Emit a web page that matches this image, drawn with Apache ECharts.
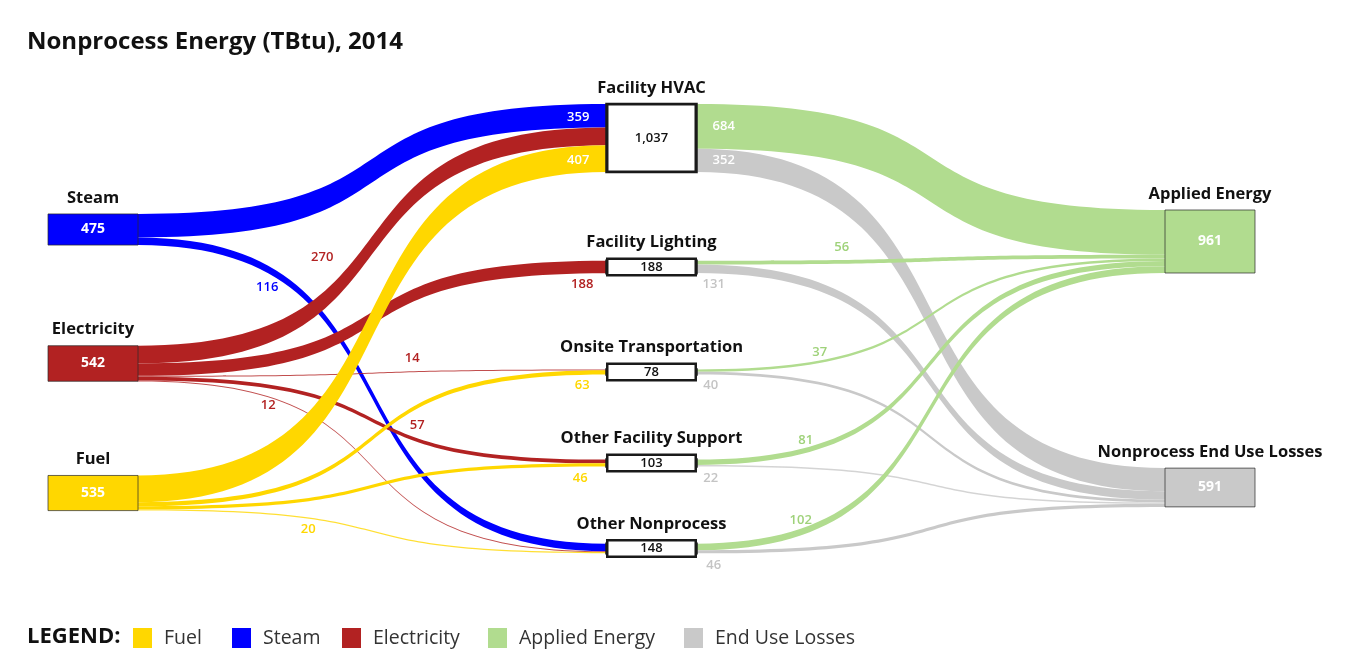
<!DOCTYPE html>
<html>
<head>
<meta charset="utf-8">
<script src="https://cdn.jsdelivr.net/npm/echarts@6/dist/echarts.min.js"></script>
<style>
  html, body { margin: 0; padding: 0; background: #fff; }
  #main { width: 1350px; height: 659px; }
</style>
</head>
<body>
<div id="main"></div>
<script>
// nodes (TBtu)
var nodeNames = ['Steam', 'Electricity', 'Fuel', 'Facility HVAC', 'Facility Lighting', 'Onsite Transportation',
  'Other Facility Support', 'Other Nonprocess', 'Applied Energy', 'Nonprocess End Use Losses'];
var nodeValues = [475, 542, 535, 1037, 188, 78, 103, 148, 961, 591];

// flows
var linkSources = ['Steam', 'Steam', 'Electricity', 'Electricity', 'Electricity', 'Electricity', 'Electricity',
  'Fuel', 'Fuel', 'Fuel', 'Fuel',
  'Facility HVAC', 'Facility HVAC', 'Facility Lighting', 'Facility Lighting',
  'Onsite Transportation', 'Onsite Transportation', 'Other Facility Support', 'Other Facility Support',
  'Other Nonprocess', 'Other Nonprocess'];
var linkTargets = ['Facility HVAC', 'Other Nonprocess', 'Facility HVAC', 'Facility Lighting', 'Onsite Transportation',
  'Other Facility Support', 'Other Nonprocess',
  'Facility HVAC', 'Onsite Transportation', 'Other Facility Support', 'Other Nonprocess',
  'Applied Energy', 'Nonprocess End Use Losses', 'Applied Energy', 'Nonprocess End Use Losses',
  'Applied Energy', 'Nonprocess End Use Losses', 'Applied Energy', 'Nonprocess End Use Losses',
  'Applied Energy', 'Nonprocess End Use Losses'];
var linkValues = [359, 116, 270, 188, 14, 57, 12, 407, 63, 46, 20, 684, 352, 56, 131, 37, 40, 81, 22, 102, 46];

// legend
var legendNames = ['Fuel', 'Steam', 'Electricity', 'Applied Energy', 'End Use Losses'];
var legendColors = ['#ffd700', '#0000ff', '#b22222', '#b1dc8f', '#c9c9c9'];

var colorOf = {
  'Steam': '#0000ff',
  'Electricity': '#b22222',
  'Fuel': '#ffd700',
  'Applied Energy': '#b1dc8f',
  'Nonprocess End Use Losses': '#c9c9c9'
};
var labelColorOf = {
  'Steam': '#0000ff',
  'Electricity': '#b22222',
  'Fuel': '#ffd700',
  'Applied Energy': '#9fd27a',
  'Nonprocess End Use Losses': '#c4c4c4'
};

// layout: node centres (px) and label offsets from the flow middle
var nodeCenters = [229.5, 363.5, 493, 138, 267, 372, 463, 548.5, 241.5, 487.5];
var labelOffsets = [[206, -53], [-105, -107], [-50, 12], [210, -34], [40, -15], [45, 5], [-104, -61],
  [206, -163], [210, -53], [208, -8], [-64, -2],
  [-207, -53], [-207, -160], [-89, -12], [-217, -98], [-111, 37], [-220, -52],
  [-125, 77], [-220, -6], [-130, 112], [-217, 37]];

var FONT = 'Open Sans';
var H = 659;
var scale = 68 / 1037;   // px per TBtu

var middle = nodeNames.filter(function (n) {
  return linkSources.indexOf(n) >= 0 && linkTargets.indexOf(n) >= 0;
});
var middleSum = 0;
middle.forEach(function (n) { middleSum += nodeValues[nodeNames.indexOf(n)]; });
var gap = (H - scale * middleSum) / (middle.length - 1);

var nodes = nodeNames.map(function (name, i) {
  var h = nodeValues[i] * scale;
  var isMid = middle.indexOf(name) >= 0;
  var boxH = Math.max(h, 17);
  var v = isMid ? {
    fontSize: 13, fontWeight: 600, color: '#111', fontFamily: FONT,
    width: 86, height: boxH - 3, lineHeight: boxH, align: 'center',
    backgroundColor: '#fff', borderColor: '#1a1a1a', borderWidth: 2.5
  } : {
    fontSize: 14, fontWeight: 'bold', color: '#fff', fontFamily: FONT, lineHeight: h
  };
  return {
    name: name,
    value: nodeValues[i],
    localY: (nodeCenters[i] - h / 2) / H,
    itemStyle: isMid
      ? { color: '#fff', borderColor: '#1a1a1a', borderWidth: 2.5 }
      : { color: colorOf[name], borderColor: 'rgba(40,40,40,0.7)', borderWidth: 1 },
    label: {
      show: true,
      position: 'inside',
      offset: [0, -16],
      formatter: '{t|' + name + '}\n{v|' + nodeValues[i].toLocaleString('en-US') + '}',
      rich: {
        t: { fontSize: 16.5, fontWeight: 'bold', color: '#111', fontFamily: FONT, lineHeight: 32 },
        v: v
      }
    }
  };
});

var links = linkValues.map(function (val, i) {
  var src = linkSources[i], tgt = linkTargets[i];
  var key = colorOf[src] ? src : tgt;
  var inside = val > 300;
  return {
    source: src,
    target: tgt,
    value: val,
    lineStyle: { color: colorOf[key], opacity: val < 25 ? 0.8 : 1 },
    edgeLabel: {
      color: inside ? '#fff' : labelColorOf[key],
      offset: labelOffsets[i]
    }
  };
});

var chart = echarts.init(document.getElementById('main'));

var legendGraphic = [{
  type: 'text', left: 27, top: 626,
  style: { text: 'LEGEND:', fontSize: 22, fontWeight: 'bold', fill: '#111', fontFamily: FONT }
}];
var legendX = [133, 232, 342, 488, 684];
legendNames.forEach(function (n, i) {
  legendGraphic.push({
    type: 'rect', left: legendX[i], top: 628,
    shape: { width: 19, height: 20 },
    style: { fill: legendColors[i] }
  });
  legendGraphic.push({
    type: 'text', left: legendX[i] + 31, top: 628,
    style: { text: n, fontSize: 19.5, fill: '#333', fontFamily: FONT }
  });
});

chart.setOption({
  backgroundColor: '#fff',
  animation: false,
  title: {
    text: 'Nonprocess Energy (TBtu), 2014',
    left: 22, top: 25,
    textStyle: { fontSize: 24, fontWeight: 'bold', color: '#111', fontFamily: FONT }
  },
  graphic: legendGraphic,
  series: [{
    type: 'sankey',
    left: 48, right: 95, top: 0, bottom: 0,
    nodeWidth: 90,
    nodeGap: gap,
    layoutIterations: 0,
    draggable: false,
    emphasis: { disabled: true },
    lineStyle: { curveness: 0.65 },
    edgeLabel: {
      show: true,
      fontSize: 13,
      fontWeight: 600,
      fontFamily: FONT,
      formatter: '{c}'
    },
    data: nodes,
    links: links
  }]
});
</script>
</body>
</html>
